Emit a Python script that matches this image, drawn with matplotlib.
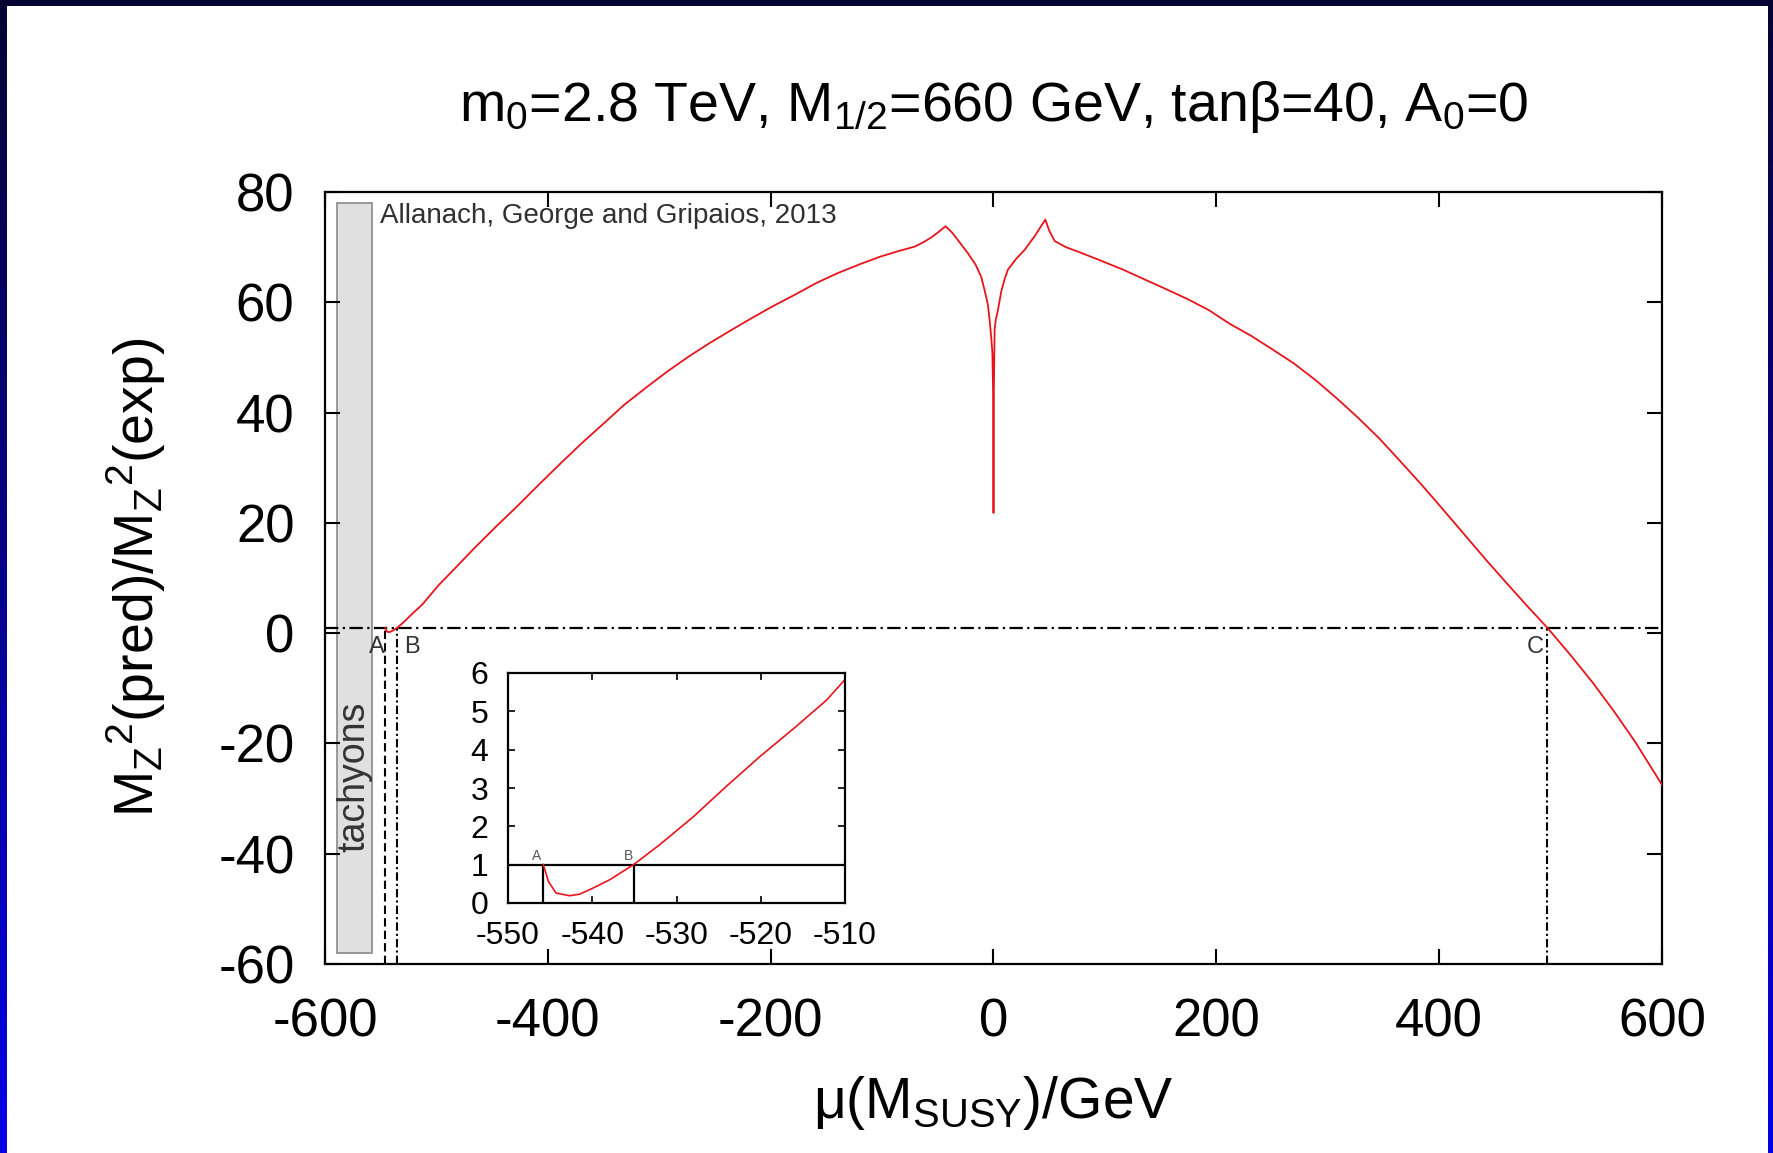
import numpy as np
import matplotlib
matplotlib.use("Agg")
import matplotlib.pyplot as plt
from matplotlib.patches import Rectangle

plt.rcParams['font.family'] = ['Liberation Sans', 'DejaVu Sans']
plt.rcParams['mathtext.fontset'] = 'custom'
plt.rcParams['mathtext.rm'] = 'Liberation Sans'
plt.rcParams['mathtext.it'] = 'Liberation Sans:italic'
plt.rcParams['mathtext.bf'] = 'Liberation Sans:bold'
plt.rcParams['axes.unicode_minus'] = False

# ---------------- data ----------------
mu = [-545.8, -545.2, -544.3, -542.7, -541.5, -539.9, -537.9, -535.1, -532.0,
      -528.0, -524.1, -520.1, -516.1, -512.2, -510.0, -498.0, -485.0, -466.0,
      -446.6, -427.0, -408.2, -389.0, -369.8, -350.0, -331.5, -312.0, -293.1,
      -274.0, -254.8, -235.0, -216.4, -197.0, -178.0, -159.0, -139.7, -120.0,
      -101.3, -85.0, -70.6, -62.0, -55.5, -49.0, -43.0, -37.0, -32.0, -23.0,
      -16.0, -11.0, -8.0, -5.0, -3.5, -2.0, -1.0, -0.2, 0.0,
      0.2, 1.0, 2.0, 3.9, 7.0, 10.0, 12.9, 20.0, 27.9, 37.0, 46.5, 50.0, 55.0,
      65.0, 78.2, 97.0, 116.5, 135.0, 154.8, 174.0, 193.1, 212.0, 231.4, 250.0,
      269.7, 289.0, 308.0, 327.0, 346.3, 365.0, 384.7, 404.0, 423.0, 442.0,
      461.3, 480.0, 497.0, 518.0, 537.9, 557.0, 576.2, 600.0]
ratio = [1.00, 0.56, 0.26, 0.19, 0.23, 0.39, 0.61, 1.00, 1.52,
         2.25, 3.04, 3.82, 4.55, 5.29, 5.83, 8.7, 11.4, 15.4,
         19.3, 23.1, 26.9, 30.7, 34.4, 38.0, 41.4, 44.5, 47.4,
         50.1, 52.6, 55.0, 57.2, 59.4, 61.4, 63.5, 65.3, 66.9,
         68.3, 69.3, 70.1, 71.0, 71.8, 72.8, 73.8, 72.6, 71.3, 68.9,
         66.8, 64.6, 62.2, 59.5, 56.8, 53.5, 50.8, 42.0, 21.8,
         42.0, 55.0, 56.8, 58.5, 62.0, 64.2, 65.9, 67.8, 69.5, 72.0, 75.0, 73.0, 71.1,
         70.0, 69.0, 67.5, 65.9, 64.2, 62.4, 60.6, 58.6, 56.1, 53.9, 51.5,
         48.9, 45.9, 42.6, 39.1, 35.3, 31.2, 26.8, 22.3, 17.8, 13.3,
         8.9, 4.7, 1.0, -4.0, -9.0, -14.2, -19.8, -27.5]
crossings = {'A': -545.8, 'B': -535.0, 'C': 497.0}
tachyon_range = [-589.2, -557.8]

x_ticks = [-600, -400, -200, 0, 200, 400, 600]
y_ticks = [-60, -40, -20, 0, 20, 40, 60, 80]
inset_x_ticks = [-550, -540, -530, -520, -510]
inset_y_ticks = [0, 1, 2, 3, 4, 5, 6]

W, H = 1774, 1153
fig = plt.figure(figsize=(W / 100, H / 100), dpi=100)

# ---------------- background ----------------
bg = fig.add_axes([0, 0, 1, 1], zorder=-10)
bg.axis('off')
t = np.linspace(0, 1, 256)[:, None, None]
top = np.array([0.02, 0.02, 0.20])
bot = np.array([0.02, 0.0, 0.90])
grad = (top * (1 - t) + bot * t) * np.ones((1, 2, 1))
bg.imshow(grad, extent=(0, 1, 0, 1), aspect='auto', origin='upper')
bg.add_patch(Rectangle((7 / W, 0), (1768 - 7) / W, (H - 6) / H,
                       facecolor='white', edgecolor='none'))
bg.set_xlim(0, 1)
bg.set_ylim(0, 1)

# ---------------- main axes ----------------
L, R, T, B = 325, 1662, 192, 964
ax = fig.add_axes([L / W, 1 - B / H, (R - L) / W, (B - T) / H])
ax.set_xlim(-600, 600)
ax.set_ylim(-60, 80)

ax.add_patch(Rectangle((tachyon_range[0], -58), tachyon_range[1] - tachyon_range[0], 136,
                       facecolor='#e0e0e0', edgecolor='#8a8a8a', lw=1.2, zorder=1))
ax.text(np.mean(tachyon_range), -26, 'tachyons', rotation=90, ha='center', va='center',
        fontsize=27, color='#333333', zorder=2)

ax.axhline(1, color='black', lw=1.6, dashes=[6, 2, 1, 2], zorder=2)
ax.plot([crossings['A']] * 2, [-60, 1], color='black', lw=1.5, dashes=[4, 2], zorder=2)
ax.plot([crossings['B']] * 2, [-60, 1], color='black', lw=1.5, dashes=[4, 1.5, 1, 1.5], zorder=2)
ax.plot([crossings['C']] * 2, [-60, 1], color='black', lw=1.5, dashes=[4, 1.5, 1, 1.5], zorder=2)

ax.plot(mu, ratio, color='#e8141c', lw=1.3, zorder=3)

ax.text(crossings['A'] - 1, -0.5, 'A', ha='right', va='top', fontsize=17, color='#333333')
ax.text(crossings['B'] + 6, -0.5, 'B', ha='left', va='top', fontsize=17, color='#333333')
ax.text(crossings['C'] - 3, -0.5, 'C', ha='right', va='top', fontsize=17, color='#333333')

ax.text(-550.5, 74.3, 'Allanach, George and Gripaios, 2013', ha='left', va='baseline',
        fontsize=20, color='#303030')

ax.set_xticks(x_ticks)
ax.set_yticks(y_ticks)
ax.tick_params(direction='in', length=11, width=1.5, top=True, right=True,
               labelsize=38, colors='black')
ax.tick_params(axis='y', pad=22)
ax.tick_params(axis='x', pad=24)
for s in ax.spines.values():
    s.set_linewidth(1.6)

# ---------------- inset ----------------
iL, iR, iT, iB = 508, 845, 673, 903
axi = fig.add_axes([iL / W, 1 - iB / H, (iR - iL) / W, (iB - iT) / H])
axi.set_xlim(-550, -510)
axi.set_ylim(0, 6)
axi.axhline(1, color='black', lw=1.6)
axi.plot([crossings['A']] * 2, [0, 1], color='black', lw=1.6)
axi.plot([crossings['B']] * 2, [0, 1], color='black', lw=1.6)
axi.plot(mu, ratio, color='#e8141c', lw=1.2)
axi.text(crossings['A'] - 0.2, 1.05, 'A', ha='right', va='bottom', fontsize=10, color='#555555')
axi.text(crossings['B'] - 0.1, 1.05, 'B', ha='right', va='bottom', fontsize=10, color='#555555')
axi.set_xticks(inset_x_ticks)
axi.set_yticks(inset_y_ticks)
axi.tick_params(direction='in', length=5, width=1.2, top=True, right=True,
                labelsize=23)
axi.tick_params(axis='y', pad=14)
axi.tick_params(axis='x', pad=13)
for s in axi.spines.values():
    s.set_linewidth(1.6)

# ---------------- labels ----------------
cx = (L + R) / 2 / W
fig.text(cx, 1 - 107 / H, r'm$_\mathrm{0}$=2.8 TeV, M$_\mathrm{1/2}$=660 GeV, tanβ=40, A$_\mathrm{0}$=0',
         ha='center', va='center', fontsize=40)
fig.text(cx, 1 - 1103 / H, r'μ(M$_\mathrm{SUSY}$)/GeV', ha='center', va='center', fontsize=41)
fig.text(136 / W, 1 - 577 / H,
         r'M$_\mathrm{Z}{}^\mathrm{2}$(pred)/M$_\mathrm{Z}{}^\mathrm{2}$(exp)',
         ha='center', va='center', rotation=90, fontsize=40)

fig.savefig('out.png', dpi=100)
